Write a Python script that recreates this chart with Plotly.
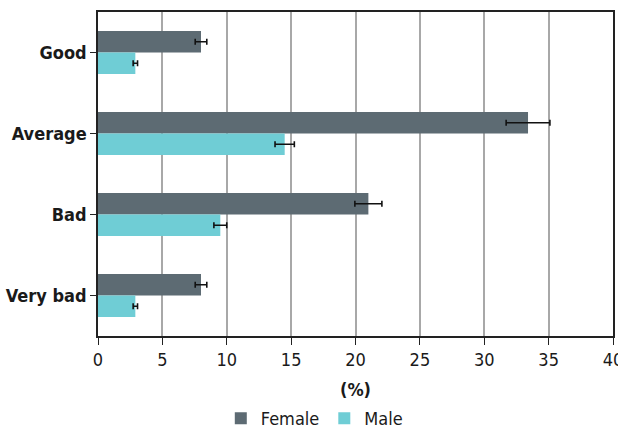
import plotly.graph_objects as go

categories = ["Good", "Average", "Bad", "Very bad"]
female = [8.0, 33.4, 21.0, 8.0]
female_err = [0.45, 1.7, 1.05, 0.45]
male = [2.9, 14.5, 9.5, 2.9]
male_err = [0.17, 0.75, 0.5, 0.17]

FONT = "DejaVu Sans Condensed, sans-serif"

fig = go.Figure()
fig.add_trace(go.Bar(
    name="Female", y=categories, x=female, orientation="h",
    marker=dict(color="#5d6b73", line=dict(width=0)),
    error_x=dict(type="data", array=female_err, color="#111111", thickness=1.6, width=3),
))
fig.add_trace(go.Bar(
    name="Male", y=categories, x=male, orientation="h",
    marker=dict(color="#6fcdd5", line=dict(width=0)),
    error_x=dict(type="data", array=male_err, color="#111111", thickness=1.6, width=3),
))

fig.update_layout(
    width=618, height=428,
    margin=dict(l=98, r=5, t=12, b=92),
    barmode="group", bargap=0.47, bargroupgap=0,
    plot_bgcolor="white", paper_bgcolor="white",
    font=dict(family=FONT, size=18, color="#1a1a1a"),
    legend=dict(orientation="h", x=0.42, xanchor="center",
                yref="container", y=0.022, yanchor="middle",
                font=dict(size=18), itemwidth=30, tracegroupgap=0,
                traceorder="normal"),
    xaxis=dict(
        range=[0, 40], tickvals=[0, 5, 10, 15, 20, 25, 30, 35, 40],
        showgrid=True, gridcolor="#a8a8a8", gridwidth=1.5,
        showline=True, linecolor="#222222", linewidth=1.5, mirror=True,
        ticks="outside", ticklen=7, tickcolor="#222222",
        ticklabeloverflow="allow",
        title=dict(text="<b>(%)</b>", font=dict(size=18), standoff=15),
        zeroline=False, automargin=False,
    ),
    yaxis=dict(
        autorange="reversed",
        showline=True, linecolor="#222222", linewidth=1.5, mirror=True,
        ticks="outside", ticklen=6, tickcolor="#222222",
        tickfont=dict(size=18, family=FONT, weight="bold"),
        showgrid=False, automargin=False,
    ),
)

fig.write_html("out.html")
